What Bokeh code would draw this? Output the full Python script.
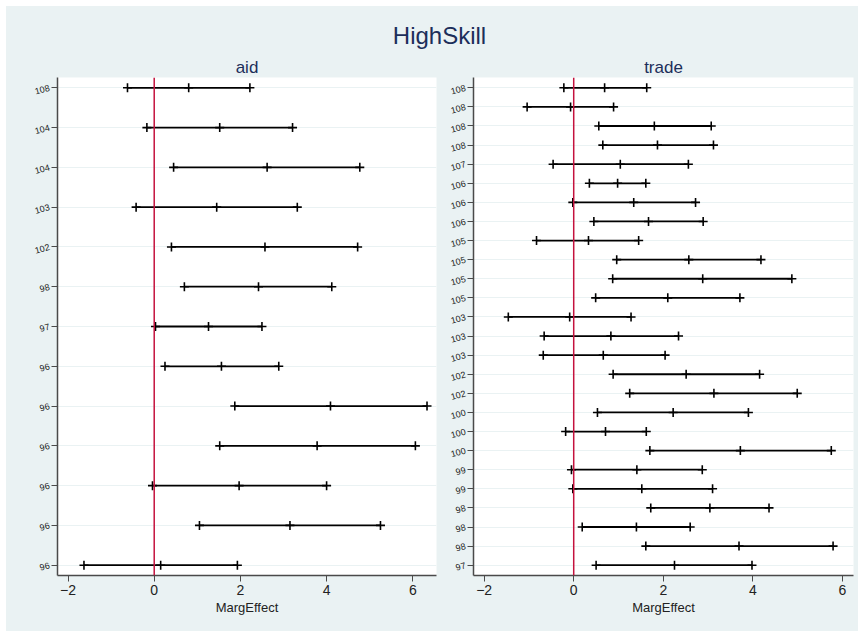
from bokeh.plotting import figure
from bokeh.models import Range1d, FixedTicker, Label, ColumnDataSource, Span
from bokeh.layouts import column, row
from bokeh.embed import file_html
from bokeh.resources import INLINE

# ---------------- data ----------------
main_title = "HighSkill"
x_label = "MargEffect"
x_ticks = [-2, 0, 2, 4, 6]

aid_title = "aid"
aid_labels = ["108", "104", "104", "103", "102", "98", "97", "96", "96", "96", "96", "96", "96"]
aid_lo = [-0.62, -0.17, 0.45, -0.42, 0.40, 0.70, 0.03, 0.25, 1.87, 1.52, -0.04, 1.05, -1.63]
aid_mid = [0.80, 1.52, 2.62, 1.45, 2.57, 2.42, 1.26, 1.56, 4.09, 3.78, 1.97, 3.15, 0.15]
aid_hi = [2.22, 3.21, 4.77, 3.32, 4.72, 4.12, 2.50, 2.89, 6.33, 6.06, 4.00, 5.25, 1.93]

trade_title = "trade"
trade_labels = ["108", "108", "108", "108", "107", "106", "106", "106", "105", "105", "105", "105", "103",
                "103", "103", "102", "102", "100", "100", "100", "99", "99", "98", "98", "98", "97"]
trade_lo = [-0.22, -1.04, 0.56, 0.65, -0.46, 0.35, -0.02, 0.45, -0.83, 0.96, 0.87, 0.49, -1.46,
            -0.66, -0.68, 0.88, 1.25, 0.53, -0.18, 1.70, -0.05, -0.02, 1.72, 0.19, 1.61, 0.50]
trade_mid = [0.69, -0.07, 1.80, 1.87, 1.04, 0.98, 1.34, 1.67, 0.33, 2.57, 2.88, 2.10, -0.09,
             0.83, 0.66, 2.51, 3.13, 2.22, 0.71, 3.72, 1.41, 1.52, 3.04, 1.40, 3.69, 2.25]
trade_hi = [1.63, 0.89, 3.07, 3.12, 2.56, 1.61, 2.72, 2.89, 1.45, 4.18, 4.87, 3.71, 1.28,
            2.34, 2.04, 4.15, 4.99, 3.90, 1.62, 5.75, 2.87, 3.10, 4.36, 2.60, 5.79, 3.98]

# ---------------- style ----------------
BG = "#EAF2F3"
NAVY = "#1C2E5A"
RED = "#C4123E"
AXIS = "#4A4A4A"
FONT = "Liberation Sans"
TH = 46           # height of the strip holding the main title
FH = 498          # frame height (px)
PAD = 10.3        # vertical padding inside frame (px)
TOP, BOTTOM = 25, 56
CSS = (":host, :host * { border: none !important; outline: none !important; "
       "box-shadow: none !important; } :host { background-color: %s !important; }" % BG)


def flat(m):
    m.stylesheets = [CSS]
    return m


def panel(title, labels, lo, mid, hi, xr, w, bl, br):
    n = len(labels)
    ys = list(range(1, n + 1))
    pad = PAD * (n - 1) / (FH - 2 * PAD)
    src = ColumnDataSource(dict(y=ys, lo=lo, mid=mid, hi=hi))
    p = figure(width=w, height=TOP + FH + BOTTOM,
               x_range=Range1d(*xr), y_range=Range1d(n + pad, 1 - pad),
               output_backend="svg", toolbar_location=None,
               min_border_left=bl, min_border_right=br,
               min_border_top=TOP, min_border_bottom=BOTTOM)
    p.background_fill_color = "white"
    p.border_fill_color = BG
    p.outline_line_color = None
    flat(p)

    p.title.text = title
    p.title.align = "center"
    p.title.text_font = FONT
    p.title.text_font_size = "17px"
    p.title.text_font_style = "normal"
    p.title.text_color = NAVY
    p.title.standoff = 1

    p.xgrid.visible = False
    p.ygrid.grid_line_color = BG
    p.ygrid.grid_line_width = 1

    for ax in (p.xaxis[0], p.yaxis[0]):
        ax.axis_line_color = AXIS
        ax.axis_line_width = 1.5
        ax.major_tick_line_color = AXIS
        ax.major_tick_line_width = 1
        ax.major_tick_out = 6
        ax.major_tick_in = 0
        ax.minor_tick_out = 0
        ax.minor_tick_in = 0
        ax.major_label_text_font = FONT
        ax.major_label_text_color = "#222222"

    p.xaxis.ticker = FixedTicker(ticks=x_ticks)
    p.xaxis.major_label_text_font_size = "14px"
    p.xaxis.major_label_standoff = 3
    p.xaxis.axis_label = x_label
    p.xaxis.axis_label_text_font = FONT
    p.xaxis.axis_label_text_font_size = "13px"
    p.xaxis.axis_label_text_font_style = "normal"
    p.xaxis.axis_label_text_color = "#222222"
    p.xaxis.axis_label_standoff = 2

    p.yaxis.ticker = FixedTicker(ticks=ys)
    p.yaxis.major_label_overrides = {y: lab for y, lab in zip(ys, labels)}
    p.yaxis.major_label_text_font_size = "9px"
    p.yaxis.major_label_orientation = 0.26
    p.yaxis.major_label_standoff = 2

    p.add_layout(Span(location=0, dimension="height", line_color=RED, line_width=1.5))
    p.segment(x0="lo", y0="y", x1="hi", y1="y", source=src, line_color="black", line_width=1.8)
    for col in ("lo", "mid", "hi"):
        p.scatter(x=col, y="y", source=src, marker="cross", size=9,
                  line_color="black", line_width=1.6)
    return p


p1 = panel(aid_title, aid_labels, aid_lo, aid_mid, aid_hi, (-2.244, 6.55), 434, 51, 4)
p2 = panel(trade_title, trade_labels, trade_lo, trade_mid, trade_hi, (-2.237, 6.246), 418, 33, 5)

pt = figure(width=852, height=TH, x_axis_type=None, y_axis_type=None,
            x_range=Range1d(0, 852), y_range=Range1d(0, TH), min_border=0,
            output_backend="svg", toolbar_location=None)
pt.background_fill_color = BG
pt.border_fill_color = BG
pt.outline_line_color = None
flat(pt)
pt.add_layout(Label(x=433, y=TH - 29, text=main_title, text_align="center", text_baseline="middle",
                    text_font=FONT, text_font_size="24px", text_color=NAVY))

panels = flat(row(p1, p2, spacing=0, styles={"background-color": BG}))
layout = flat(column(pt, panels, spacing=0, styles={"background-color": BG}))
layout.margin = (6, 0, 0, 6)
open("out.html", "w").write(file_html(layout, INLINE))
